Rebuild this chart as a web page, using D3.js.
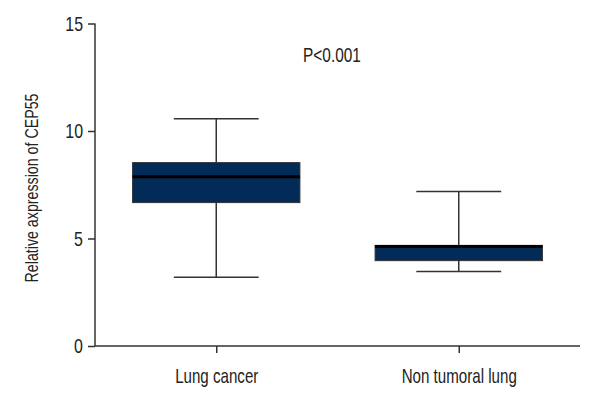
<!DOCTYPE html>
<html><head><meta charset="utf-8">
<script src="https://cdn.jsdelivr.net/npm/d3@7"></script>
<style>
body{margin:0;background:#fff;}
text{font-family:"Liberation Sans",Arial,sans-serif;fill:#222;}
</style></head>
<body><svg id="c" width="600" height="400"></svg>
<script>
const categories = ["Lung cancer", "Non tumoral lung"];
const whiskerLow = [3.2, 3.46];
const q1 = [6.67, 3.97];
const median = [7.87, 4.63];
const q3 = [8.53, 4.68];
const whiskerHigh = [10.57, 7.19];
const yTicks = [0, 5, 10, 15];
const pLabel = "P<0.001";
const yLabel = "Relative axpression of CEP55";

const svg = d3.select("#c");
const x0 = 95, x1 = 580, yTop = 23.5, yBot = 346;
const x = d3.scalePoint().domain(categories).range([x0, x1]).padding(0.5);
const y = d3.scaleLinear().domain([0, 15]).range([yBot, yTop]);
const step = x.step();
const boxW = step * 0.69, capW = step * 0.35;

const data = categories.map((c, i) => ({c, lo: whiskerLow[i], q1: q1[i], med: median[i], q3: q3[i], hi: whiskerHigh[i]}));

const g = svg.append("g");
data.forEach(d => {
  const cx = x(d.c);
  g.append("line").attr("x1", cx).attr("x2", cx).attr("y1", y(d.hi)).attr("y2", y(d.lo))
    .attr("stroke", "#333").attr("stroke-width", 1.5);
  [d.hi, d.lo].forEach(v => g.append("line").attr("x1", cx - capW/2).attr("x2", cx + capW/2)
    .attr("y1", y(v)).attr("y2", y(v)).attr("stroke", "#333").attr("stroke-width", 1.5));
  g.append("rect").attr("x", cx - boxW/2).attr("width", boxW)
    .attr("y", y(d.q3)).attr("height", y(d.q1) - y(d.q3))
    .attr("fill", "#022b57").attr("stroke", "#333").attr("stroke-width", 1);
  g.append("line").attr("x1", cx - boxW/2).attr("x2", cx + boxW/2)
    .attr("y1", y(d.med)).attr("y2", y(d.med)).attr("stroke", "#000").attr("stroke-width", 3);
});

const ya = svg.append("g").attr("transform", `translate(${x0},0)`)
  .call(d3.axisLeft(y).tickValues(yTicks).tickSize(7).tickPadding(5).tickSizeOuter(0));
ya.select(".domain").attr("stroke", "#333").attr("stroke-width", 1.5).attr("d", `M0,${yTop}V${yBot}`);
ya.selectAll(".tick line").attr("stroke", "#333").attr("stroke-width", 1.5);
ya.selectAll(".tick text").attr("font-size", 21).attr("data-k", 0.76).style("fill", "#222")
  .style("font-family", "'Liberation Sans',Arial,sans-serif");

const xa = svg.append("g").attr("transform", `translate(0,${yBot})`)
  .call(d3.axisBottom(x).tickSize(7).tickPadding(15.4).tickSizeOuter(0));
xa.select(".domain").attr("stroke", "#333").attr("stroke-width", 1.5).attr("d", `M${x0},0H${x1}`);
xa.selectAll(".tick line").attr("stroke", "#333").attr("stroke-width", 1.5);
xa.selectAll(".tick text").attr("font-size", 21).attr("data-k", 0.72).style("fill", "#222")
  .style("font-family", "'Liberation Sans',Arial,sans-serif");

svg.append("text").attr("transform", `translate(38,188) rotate(-90)`)
  .attr("text-anchor", "middle").attr("font-size", 18).attr("data-k", 0.79).text(yLabel);

svg.append("text").attr("x", 332).attr("y", 62).attr("text-anchor", "middle")
  .attr("font-size", 20).attr("data-k", 0.77).text(pLabel);

// condense all text to mimic a condensed typeface
svg.selectAll("text").each(function() {
  const k = +this.getAttribute("data-k") || 0.75;
  const len = this.getComputedTextLength();
  d3.select(this).attr("textLength", len * k).attr("lengthAdjust", "spacingAndGlyphs");
});
</script></body></html>
